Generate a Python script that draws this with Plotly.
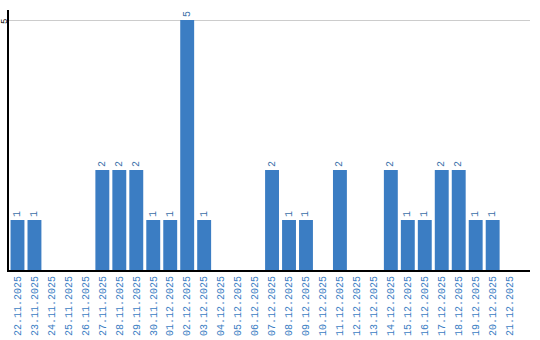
import plotly.graph_objects as go

dates = ["22.11.2025","23.11.2025","24.11.2025","25.11.2025","26.11.2025","27.11.2025",
         "28.11.2025","29.11.2025","30.11.2025","01.12.2025","02.12.2025","03.12.2025",
         "04.12.2025","05.12.2025","06.12.2025","07.12.2025","08.12.2025","09.12.2025",
         "10.12.2025","11.12.2025","12.12.2025","13.12.2025","14.12.2025","15.12.2025",
         "16.12.2025","17.12.2025","18.12.2025","19.12.2025","20.12.2025","21.12.2025"]
counts = [1,1,0,0,0,2,2,2,1,1,5,1,0,0,0,2,1,1,0,2,0,0,2,1,1,2,2,1,1,0]
labels = [str(v) if v > 0 else "" for v in counts]
y_tick_vals = [5]

blue = "#3b7dc3"
fig = go.Figure(go.Bar(
    x=list(range(len(dates))), y=counts, marker_color=blue, marker_line_width=0,
    text=labels, textposition="outside", textangle=-90, cliponaxis=False,
    textfont=dict(family="Liberation Mono", size=10, color="#3b6fa8"),
))
fig.update_layout(
    width=540, height=340, margin=dict(l=9, r=10, t=10, b=70),
    paper_bgcolor="white", plot_bgcolor="white", showlegend=False,
    bargap=0.18,
)
for v in y_tick_vals:
    fig.add_annotation(text=str(v), xref="paper", yref="y", x=0, y=v,
                       xanchor="center", yanchor="middle", textangle=-90,
                       showarrow=False, xshift=-4, yshift=-2, borderpad=0,
                       font=dict(family="Liberation Mono", size=9, color="black"))
fig.update_xaxes(tickmode="array", tickvals=list(range(len(dates))), ticktext=dates,
                 range=[-0.5, 30.2],
                 tickangle=-90, tickfont=dict(family="Liberation Mono", size=10, color=blue),
                 showline=True, linecolor="black", linewidth=2, showgrid=False,
                 ticks="", automargin=False)
fig.update_yaxes(range=[0, 5.2], tickvals=y_tick_vals, showticklabels=False,
                 showline=True, linecolor="black", linewidth=2, showgrid=True,
                 gridcolor="#cccccc", zeroline=False, ticks="", automargin=False)
fig.write_html("out.html")
